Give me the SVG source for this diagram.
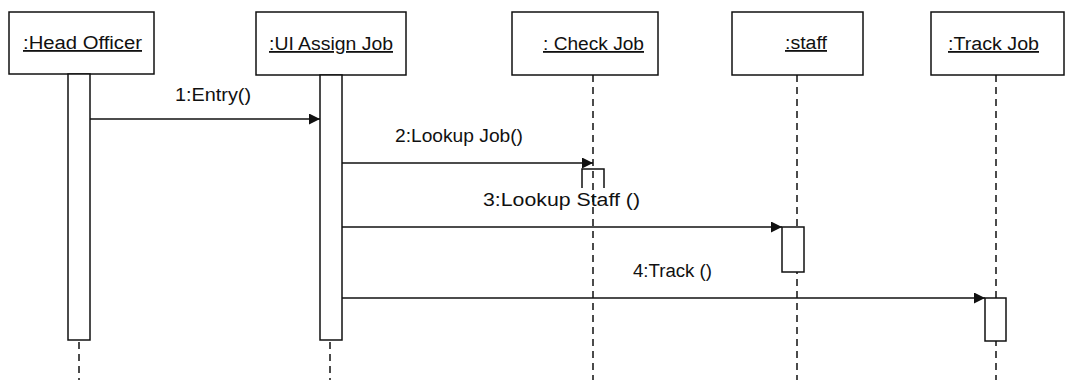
<svg xmlns="http://www.w3.org/2000/svg" width="1070" height="380" viewBox="0 0 1070 380">
<style>
.box{fill:#fff;stroke:#111;stroke-width:1.5}
.act{fill:#fff;stroke:#111;stroke-width:1.5}
.life{stroke:#111;stroke-width:1.5;stroke-dasharray:7 5;fill:none}
.msg{stroke:#111;stroke-width:1.5;fill:none;marker-end:url(#ah)}
.lbl{font-family:"Liberation Sans",Arial,sans-serif;font-size:18px;fill:#111;text-decoration:underline}
.mtx{font-family:"Liberation Sans",Arial,sans-serif;font-size:18px;fill:#111}
</style>
<defs>
<marker id="ah" viewBox="0 0 10 10" refX="10" refY="5" markerWidth="11" markerHeight="11" markerUnits="userSpaceOnUse" orient="auto">
<path d="M0,0 L10,5 L0,10 z" fill="#111"/>
</marker>
</defs>
<rect width="1070" height="380" fill="#fff"/>

<g id="head-officer">
<rect class="box" x="9" y="12" width="145" height="62"/>
<text class="lbl" x="23" y="49" textLength="119" lengthAdjust="spacingAndGlyphs">:Head Officer</text>
<rect class="act" x="68" y="74" width="22" height="266"/>
<line class="life" x1="79" y1="342" x2="79" y2="380"/>
</g>

<g id="ui-assign-job">
<rect class="box" x="256" y="12" width="150" height="63"/>
<text class="lbl" x="269" y="50" textLength="124" lengthAdjust="spacingAndGlyphs">:UI Assign Job</text>
<rect class="act" x="320" y="75" width="22" height="265"/>
<line class="life" x1="330" y1="342" x2="330" y2="380"/>
</g>

<g id="check-job">
<rect class="box" x="512" y="12" width="146" height="63"/>
<text class="lbl" x="543" y="50" textLength="101" lengthAdjust="spacingAndGlyphs">: Check Job</text>
<line class="life" x1="593" y1="75" x2="593" y2="380"/>
<path d="M582,188 L582,169 L604,169 L604,188" fill="none" stroke="#111" stroke-width="1.5"/>
</g>

<g id="staff">
<rect class="box" x="732" y="12" width="131" height="63"/>
<text class="lbl" x="785" y="49" textLength="42" lengthAdjust="spacingAndGlyphs">:staff</text>
<line class="life" x1="797" y1="75" x2="797" y2="380"/>
<rect class="act" x="782" y="227" width="22" height="45"/>
</g>

<g id="track-job">
<rect class="box" x="931" y="12" width="133" height="63"/>
<text class="lbl" x="948" y="50" textLength="91" lengthAdjust="spacingAndGlyphs">:Track Job</text>
<line class="life" x1="996" y1="75" x2="996" y2="380"/>
<rect class="act" x="985" y="298" width="21" height="43"/>
</g>

<g id="connectors">
<line class="msg" x1="90" y1="119" x2="320" y2="119"/>
<text class="mtx" x="175" y="101" textLength="76" lengthAdjust="spacingAndGlyphs">1:Entry()</text>
<line class="msg" x1="342" y1="163" x2="593" y2="163"/>
<text class="mtx" x="395" y="142" textLength="128" lengthAdjust="spacingAndGlyphs">2:Lookup Job()</text>
<line class="msg" x1="342" y1="227" x2="782" y2="227"/>
<text class="mtx" x="483" y="206" textLength="157" lengthAdjust="spacingAndGlyphs">3:Lookup Staff ()</text>
<line class="msg" x1="342" y1="298" x2="985" y2="298"/>
<text class="mtx" x="633" y="277" textLength="79" lengthAdjust="spacingAndGlyphs">4:Track ()</text>
</g>
</svg>
